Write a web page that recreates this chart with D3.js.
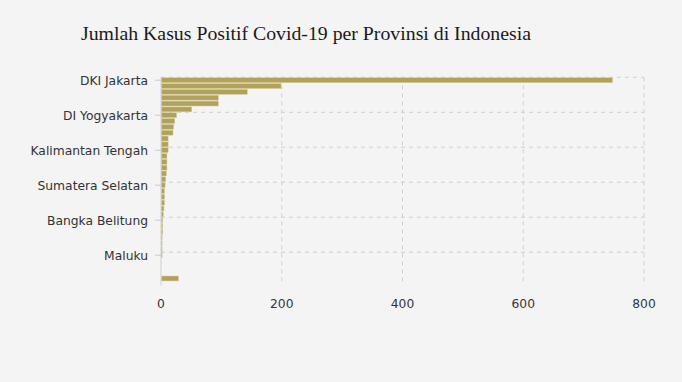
<!DOCTYPE html>
<html>
<head>
<meta charset="utf-8">
<script src="https://cdn.jsdelivr.net/npm/d3@7"></script>
<style>
  html, body { margin: 0; padding: 0; background: #f4f4f4; }
  svg { display: block; }
</style>
</head>
<body>
<svg id="chart" width="682" height="382"></svg>
<script>
const provinces = [
  "DKI Jakarta", "Jawa Barat", "Banten", "Jawa Timur", "Jawa Tengah", "Sulawesi Selatan",
  "DI Yogyakarta", "Kalimantan Timur", "Bali", "Papua", "Sumatera Utara", "Kalimantan Selatan",
  "Kalimantan Tengah", "Kalimantan Barat", "Kepulauan Riau", "Sulawesi Tenggara", "Sulawesi Utara", "Aceh",
  "Sumatera Selatan", "Sumatera Barat", "Lampung", "Jambi", "Nusa Tenggara Barat", "Papua Barat",
  "Bangka Belitung", "Riau", "Maluku Utara", "Sulawesi Tengah", "Bengkulu", "Kalimantan Utara",
  "Maluku", "Gorontalo", "Nusa Tenggara Timur", "Sulawesi Barat", "Dalam Proses Verifikasi"
];
const cases = [
  747, 198, 142, 94, 94, 50,
  25, 22, 20, 19, 11, 11,
  11, 9, 9, 9, 8, 7,
  6, 5, 5, 5, 4, 3,
  2, 2, 2, 1, 1, 1,
  1, 0, 0, 0, 28
];
const shownLabels = ["DKI Jakarta", "DI Yogyakarta", "Kalimantan Tengah", "Sumatera Selatan", "Bangka Belitung", "Maluku"];
const xTicks = [0, 200, 400, 600, 800];
const title = "Jumlah Kasus Positif Covid-19 per Provinsi di Indonesia";

const data = provinces.map((p, i) => ({ name: p, value: cases[i] }));

const svg = d3.select("#chart");
const plotLeft = 161, plotRight = 644, plotTop = 77.3, plotBottom = 281.4;

const x = d3.scaleLinear().domain([0, 800]).range([plotLeft, plotRight]);
const y = d3.scaleBand().domain(provinces).range([plotTop, plotBottom]).paddingInner(0.16).paddingOuter(0.08);
const step = y.step();

svg.append("text")
  .attr("x", 81).attr("y", 40)
  .attr("font-family", "Liberation Serif, Times New Roman, serif")
  .attr("font-size", 19.8)
  .attr("fill", "#1a1a1a")
  .text(title);

// vertical gridlines
svg.append("g").selectAll("line").data(xTicks.slice(1)).join("line")
  .attr("x1", d => x(d)).attr("x2", d => x(d))
  .attr("y1", plotTop).attr("y2", plotBottom + 4)
  .attr("stroke", "#cfcfcf").attr("stroke-width", 1).attr("stroke-dasharray", "4,4");

// horizontal gridlines at band starts of labeled categories
svg.append("g").selectAll("line").data(shownLabels).join("line")
  .attr("x1", plotLeft).attr("x2", plotRight)
  .attr("y1", d => provinces.indexOf(d) * step + plotTop)
  .attr("y2", d => provinces.indexOf(d) * step + plotTop)
  .attr("stroke", "#cfcfcf").attr("stroke-width", 1).attr("stroke-dasharray", "4,4");

// y axis line
svg.append("line")
  .attr("x1", plotLeft).attr("x2", plotLeft).attr("y1", plotTop).attr("y2", plotBottom + 4)
  .attr("stroke", "#d0d0d0").attr("stroke-width", 1);

// bars
svg.append("g").selectAll("rect").data(data).join("rect")
  .attr("x", x(0) + 0.5)
  .attr("y", d => y(d.name))
  .attr("width", d => Math.max(0, x(d.value) - x(0)))
  .attr("height", y.bandwidth())
  .attr("fill", "#b1a15b")
  .attr("stroke", "#d4cb9c")
  .attr("stroke-width", 0.5);

// y axis labels and ticks
const yg = svg.append("g");
yg.selectAll("line").data(shownLabels).join("line")
  .attr("x1", 155).attr("x2", plotLeft)
  .attr("y1", d => y(d) + y.bandwidth() / 2)
  .attr("y2", d => y(d) + y.bandwidth() / 2)
  .attr("stroke", "#c8c8c8");
yg.selectAll("text").data(shownLabels).join("text")
  .attr("x", 148)
  .attr("y", d => y(d) + y.bandwidth() / 2)
  .attr("dy", "0.42em")
  .attr("text-anchor", "end")
  .attr("font-family", "DejaVu Sans, Verdana, sans-serif")
  .attr("font-size", 12.3)
  .attr("fill", "#333")
  .text(d => d);

// x axis labels
svg.append("g").selectAll("text").data(xTicks).join("text")
  .attr("x", d => x(d))
  .attr("y", 308)
  .attr("text-anchor", "middle")
  .attr("font-family", "DejaVu Sans, Verdana, sans-serif")
  .attr("font-size", 12.3)
  .attr("fill", "#333")
  .text(d => d);
</script>
</body>
</html>
